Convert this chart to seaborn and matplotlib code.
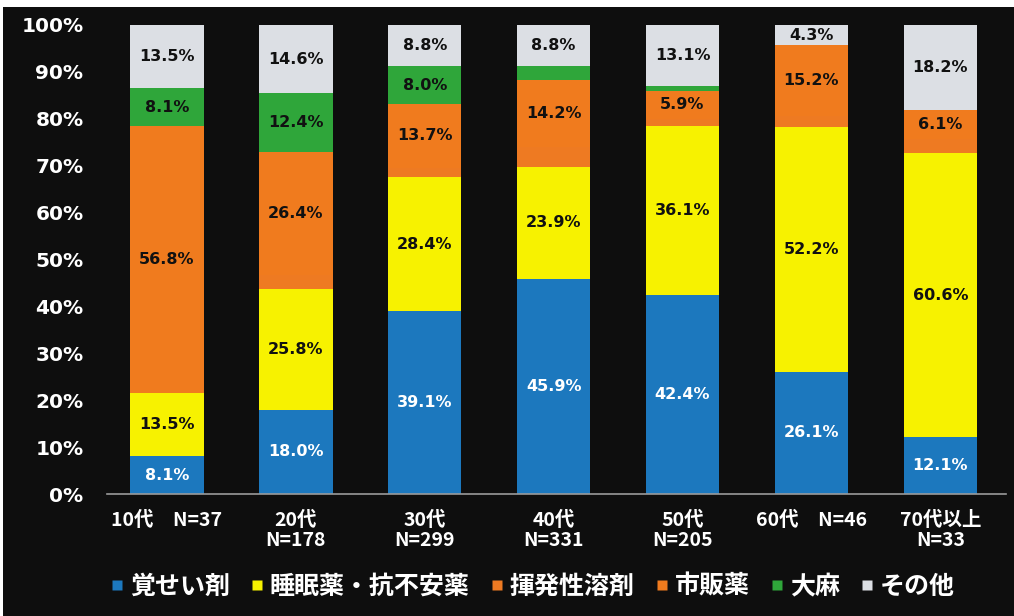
import numpy as np
import pandas as pd
import matplotlib
matplotlib.use("Agg")
import matplotlib.pyplot as plt
import seaborn as sns
from matplotlib.patches import Rectangle
from matplotlib.lines import Line2D

# ---------------- data ----------------
ages = ["10代", "20代", "30代", "40代", "50代", "60代", "70代以上"]
tick_labels = ["10代　N=37", "20代\nN=178", "30代\nN=299", "40代\nN=331",
               "50代\nN=205", "60代　N=46", "70代以上\nN=33"]
series_names = ["覚せい剤", "睡眠薬・抗不安薬", "揮発性溶剤", "市販薬", "大麻", "その他"]
stimulants = [8.1, 18.0, 39.1, 45.9, 42.4, 26.1, 12.1]
sleeping = [13.5, 25.8, 28.4, 23.9, 36.1, 52.2, 60.6]
solvents = [0.0, 2.8, 2.0, 4.2, 1.5, 2.2, 3.0]
otc = [56.8, 26.4, 13.7, 14.2, 5.9, 15.2, 6.1]
cannabis = [8.1, 12.4, 8.0, 3.0, 1.0, 0.0, 0.0]
others = [13.5, 14.6, 8.8, 8.8, 13.1, 4.3, 18.2]
y_ticks = [0, 10, 20, 30, 40, 50, 60, 70, 80, 90, 100]

colors = ["#1c78be", "#f7f200", "#ee7a22", "#f07b1e", "#2fa63a", "#dcdfe4"]
label_colors = ["white", "#111111", "#111111", "#111111", "#111111", "#111111"]
show_label = [True, True, False, True, True, True]

series = [stimulants, sleeping, solvents, otc, cannabis, others]
df = pd.DataFrame({name: vals for name, vals in zip(series_names, series)}, index=ages)
cum = df.cumsum(axis=1)

# ---------------- style ----------------
sns.set_style("dark")
plt.rcParams["font.family"] = ["Noto Sans CJK JP", "DejaVu Sans"]
bg = "#0e0e0e"

fig = plt.figure(figsize=(10.14, 6.16), dpi=100, facecolor=bg)
ax = fig.add_axes([107 / 1014, 1 - 494 / 616, (1006 - 107) / 1014, (494 - 25) / 616])
ax.set_facecolor(bg)

# white scan border at top/left
fig.patches.append(Rectangle((0, 1 - 7 / 616), 1, 7 / 616, transform=fig.transFigure,
                             facecolor="white", edgecolor="none", zorder=10))
fig.patches.append(Rectangle((0, 0), 3 / 1014, 1, transform=fig.transFigure,
                             facecolor="white", edgecolor="none", zorder=10))

# stacked bars: draw cumulative totals from top layer down
for i in range(len(series_names) - 1, -1, -1):
    name = series_names[i]
    plot_df = pd.DataFrame({"age": ages, "value": cum[name].values})
    sns.barplot(data=plot_df, x="age", y="value", order=ages, color=colors[i],
                saturation=1, width=0.57, linewidth=0, ax=ax, errorbar=None)

# value labels
for j, age in enumerate(ages):
    bottom = 0.0
    for i, name in enumerate(series_names):
        v = df.loc[age, name]
        if show_label[i] and v >= 4:
            ax.text(j, bottom + v / 2, f"{v:.1f}%", ha="center", va="center",
                    fontsize=11.5, fontweight="bold", color=label_colors[i],
                    family="DejaVu Sans")
        bottom += v

ax.set_ylim(0, 100)
ax.set_xlim(-0.465, 6.51)
ax.set_yticks(y_ticks)
ax.set_yticklabels([f"{t}%" for t in y_ticks], family="DejaVu Sans",
                   fontsize=14.5, fontweight="bold", color="white")
ax.set_xticks(range(len(ages)))
ax.set_xticklabels(tick_labels, fontsize=14, fontweight="bold", color="white",
                   linespacing=1.05)
ax.tick_params(axis="both", length=0)
ax.tick_params(axis="y", pad=17)
ax.tick_params(axis="x", pad=12)
ax.set_xlabel("")
ax.set_ylabel("")
ax.grid(False)
for s in ["top", "right", "left"]:
    ax.spines[s].set_visible(False)
ax.spines["bottom"].set_visible(True)
ax.spines["bottom"].set_color("#9a9a9a")
ax.spines["bottom"].set_linewidth(1.2)

# legend
handles = [Line2D([0], [0], marker="s", linestyle="", markersize=7.5,
                  markerfacecolor=c, markeredgecolor="none") for c in colors]
leg = fig.legend(handles, series_names, loc="center", bbox_to_anchor=(0.525, 0.048),
                 ncol=6, frameon=False, handlelength=0.6, handletextpad=0.2,
                 columnspacing=0.8, prop={"weight": "bold", "size": 18})
for t in leg.get_texts():
    t.set_color("white")

fig.savefig("out.png", dpi=100, facecolor=fig.get_facecolor())
